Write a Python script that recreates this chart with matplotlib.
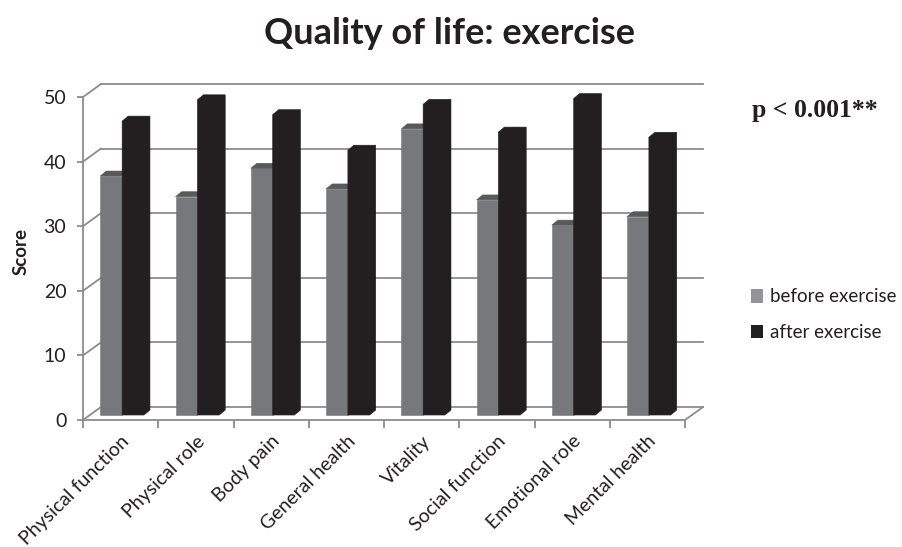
import matplotlib.pyplot as plt
from matplotlib.patches import Polygon, Patch

plt.rcParams['font.family'] = ['Lato', 'DejaVu Sans']

categories = ['Physical function', 'Physical role', 'Body pain', 'General health',
              'Vitality', 'Social function', 'Emotional role', 'Mental health']
before = [37, 33.8, 38.2, 35, 44.3, 33.3, 29.4, 30.7]
after = [45.5, 48.8, 46.5, 41, 48.1, 43.8, 49, 43]
yticks = [0, 10, 20, 30, 40, 50]

# oblique "3d" look: depth offsets in data units
back_dx, back_dy = 0.239, 2.01       # back wall
front_dx, front_dy = 0.093, 0.77     # front face of the bars
bar_dx, bar_dy = 0.08, 0.77          # bar depth
bw = 0.29

grid_c = '#8c8c8c'
gray_front, gray_top = '#77787b', '#58595b'
black_front = '#231f20'
txt_c = '#231f20'

W, H = 902, 547
px_x, px_y = 75.25, 6.46
x0_px, y0_px = 83, 420
xmax, ymax = 8.3, 52.3

fig = plt.figure(figsize=(W / 100, H / 100), dpi=100)
ax = fig.add_axes([x0_px / W, (H - y0_px) / H, xmax * px_x / W, ymax * px_y / H])
ax.set_xlim(0, xmax)
ax.set_ylim(0, ymax)

for s in ['top', 'right']:
    ax.spines[s].set_visible(False)
for s in ['left', 'bottom']:
    ax.spines[s].set_color(grid_c)
    ax.spines[s].set_linewidth(1.3)
ax.spines['left'].set_bounds(0, 50)
ax.spines['bottom'].set_bounds(0, 8)

# back wall gridlines + side wall diagonals
for v in yticks:
    ax.plot([back_dx, 8 + back_dx], [v + back_dy, v + back_dy], color=grid_c, lw=1.3, zorder=1)
    ax.plot([0, back_dx], [v, v + back_dy], color=grid_c, lw=1.3, zorder=1)
ax.plot([8, 8 + back_dx], [0, back_dy], color=grid_c, lw=1.3, zorder=1)


def gray_bar(x, v):
    fx, fy = x + front_dx, front_dy
    bx, by = fx + bar_dx, fy + bar_dy
    ax.add_patch(Polygon([(fx, fy), (fx + bw, fy), (fx + bw, fy + v), (fx, fy + v)],
                         facecolor=gray_front, edgecolor=gray_front, lw=0.4, zorder=3))
    ax.add_patch(Polygon([(fx, fy + v), (fx + bw, fy + v), (bx + bw, by + v), (bx, by + v)],
                         facecolor=gray_top, edgecolor=gray_top, lw=0.4, zorder=3))


def black_bar(x, v):
    # front, top and side are all near-black, so draw the outline as one shape
    fx, fy = x + front_dx, front_dy
    bx, by = fx + bar_dx, fy + bar_dy
    ax.add_patch(Polygon([(fx, fy), (fx + bw, fy), (bx + bw, by), (bx + bw, by + v),
                          (bx, by + v), (fx, fy + v)],
                         facecolor=black_front, edgecolor=black_front, lw=0.4, zorder=4))


for i, (b, a) in enumerate(zip(before, after)):
    left = i + 0.5 - bw - front_dx + 0.02
    gray_bar(left, b)
    black_bar(left + bw, a)

ax.set_yticks(yticks)
ax.set_yticklabels([str(v) for v in yticks], fontsize=14, color=txt_c)
ax.tick_params(axis='y', length=4, width=1.3, color=grid_c, pad=8)
ax.set_xticks(range(9))
ax.set_xticklabels([])
ax.tick_params(axis='x', which='major', length=6, width=1.3, color=grid_c)
ax.set_xticks([i + 0.5 for i in range(8)], minor=True)
ax.set_xticklabels(categories, minor=True, rotation=45, ha='right', va='top',
                   rotation_mode='anchor', fontsize=14, color=txt_c)
ax.tick_params(axis='x', which='minor', length=0, pad=9)

ax.set_ylabel('Score', fontsize=13.5, fontweight='bold', color=txt_c, labelpad=10)

fig.text(450 / W, 1 - 33 / H, 'Quality of life: exercise', ha='center', va='center',
         fontsize=26, fontweight='bold', color=txt_c)
fig.text(815 / W, 1 - 110 / H, 'p < 0.001**', ha='center', va='center',
         fontsize=18.5, fontweight='bold', color=txt_c, family=['Liberation Serif'])

handles = [Patch(facecolor='#949497', label='before exercise'),
           Patch(facecolor=black_front, label='after exercise')]
fig.legend(handles=handles, loc='upper left', bbox_to_anchor=(742 / W, 1 - 279 / H),
           frameon=False, fontsize=13.5, handlelength=0.6, handleheight=0.75,
           handletextpad=0.4, labelspacing=1.0, borderpad=0, labelcolor=txt_c)

fig.savefig('out.png', dpi=100)
